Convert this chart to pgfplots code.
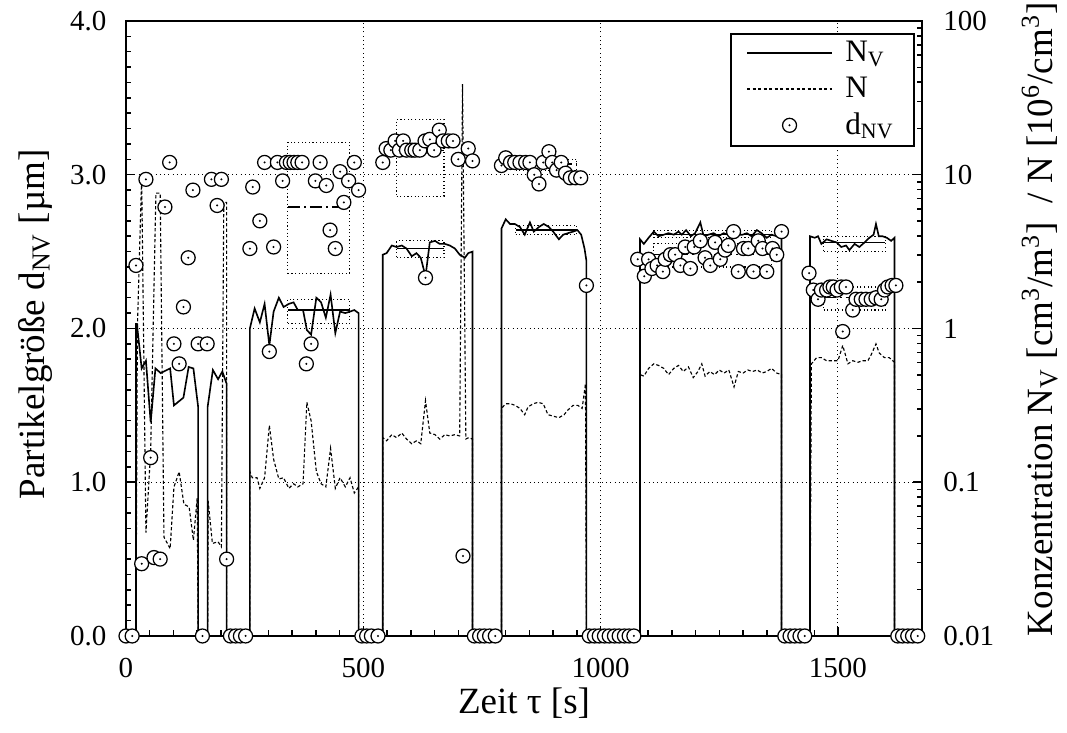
\documentclass[border=0pt]{standalone}
\usepackage{pgfplots}
\pgfplotsset{compat=1.18}
\usepackage{fontspec}
\setmainfont{Liberation Serif}

\pgfdeclareplotmark{odot}{%
  \pgfpathcircle{\pgfpointorigin}{\pgfplotmarksize}%
  \pgfusepathqfillstroke
  \begin{pgfscope}\pgfsetfillcolor{black}\pgfpathcircle{\pgfpointorigin}{0.45pt}\pgfusepathqfill\end{pgfscope}%
}

\pgfplotsset{
  base/.style={scale only axis, width=318.4pt, height=246pt, xmin=0, xmax=1677,
    /pgf/number format/assume math mode=true,
    tick label style={font=\fontsize{11.6}{13}\selectfont},
    label style={font=\fontsize{14.8}{16}\selectfont},
    axis line style={line width=0.8pt},
    major tick length=3.6pt, minor tick length=2.2pt,
    every tick/.style={black, line width=0.6pt},
    tick align=inside},
  dotbox/.style={black, line width=0.45pt, dash pattern=on 0.45pt off 1pt},
  meanA/.style={black, line width=0.5pt, dash pattern=on 5pt off 1.5pt on 0.8pt off 1.5pt},
  meanB/.style={black, line width=0.6pt},
}

\begin{document}
\begin{tikzpicture}
% ---------- axis 1: left linear axis, grid, marker boxes
\begin{axis}[base, ymin=0, ymax=4,
  xtick={0,500,1000,1500}, xticklabels={0,500,1000,1500},
  minor x tick num=9,
  ytick={0,1,2,3,4}, yticklabels={0.0,1.0,2.0,3.0,4.0},
  minor y tick num=9,
  xtick pos=left, ytick pos=left,
  grid=major, major grid style={black, line width=0.4pt, dash pattern=on 0.4pt off 1.3pt},
  yticklabel style={xshift=-4.3pt},
  xticklabel style={yshift=-5.5pt},
  xlabel={Zeit τ [s]},
  ylabel={Partikelgröße d\textsubscript{NV} [µm]},
  xlabel style={at={(axis description cs:0.5,-0.109)}, anchor=center},
  ylabel style={at={(axis description cs:-0.114,0.507)}, anchor=center, rotate=0},
]
\coordinate (SW) at (rel axis cs:0,0);
\coordinate (NE) at (rel axis cs:1,1);
% marker mean boxes
\addplot[dotbox] coordinates {(341,2.36)(471,2.36)(471,3.21)(341,3.21)(341,2.36)};
\addplot[meanA] coordinates {(341,2.79)(471,2.79)};
\addplot[dotbox] coordinates {(570,2.86)(670,2.86)(670,3.36)(570,3.36)(570,2.86)};
\addplot[meanA] coordinates {(570,3.16)(670,3.16)};
\addplot[dotbox] coordinates {(821,3.03)(950,3.03)(950,3.10)(821,3.10)(821,3.03)};
\addplot[meanA] coordinates {(821,3.07)(950,3.07)};
\addplot[dotbox] coordinates {(1112,2.40)(1360,2.40)(1360,2.55)(1112,2.55)(1112,2.40)};
\addplot[meanA] coordinates {(1112,2.48)(1360,2.48)};
\addplot[dotbox] coordinates {(1470,2.12)(1600,2.12)(1600,2.27)(1470,2.27)(1470,2.12)};
\addplot[meanA] coordinates {(1470,2.20)(1600,2.20)};
\end{axis}

% ---------- axis 2: right log axis, N_V and N
\begin{axis}[base, ymode=log, ymin=0.01, ymax=100,
  axis x line=none, axis y line*=right,
  ytick={0.01,0.1,1,10,100}, yticklabels={0.01,0.1,1,10,100},
  minor ytick={0.02,0.03,0.04,0.05,0.06,0.07,0.08,0.09,0.2,0.3,0.4,0.5,0.6,0.7,0.8,0.9,2,3,4,5,6,7,8,9,20,30,40,50,60,70,80,90},
  yticklabel style={xshift=5pt},
  ylabel={Konzentration N\textsubscript{V} [cm\textsuperscript{3}/m\textsuperscript{3}]\ \ / N [10\textsuperscript{6}/cm\textsuperscript{3}]},
  ylabel style={at={(axis description cs:1.148,0.515)}, anchor=center, rotate=0},
]
% N_V boxes
\addplot[dotbox] coordinates {(341,1.072)(471,1.072)(471,1.549)(341,1.549)(341,1.072)};
\addplot[meanB] coordinates {(341,1.318)(471,1.318)};
\addplot[dotbox] coordinates {(570,2.884)(670,2.884)(670,3.715)(570,3.715)(570,2.884)};
\addplot[meanB] coordinates {(570,3.311)(670,3.311)};
\addplot[dotbox] coordinates {(821,4.074)(950,4.074)(950,4.677)(821,4.677)(821,4.074)};
\addplot[meanB] coordinates {(821,4.365)(950,4.365)};
\addplot[dotbox] coordinates {(1112,3.890)(1360,3.890)(1360,4.365)(1112,4.365)(1112,3.890)};
\addplot[meanB] coordinates {(1112,4.074)(1360,4.074)};
\addplot[dotbox] coordinates {(1470,3.162)(1600,3.162)(1600,3.981)(1470,3.981)(1470,3.162)};
\addplot[meanB] coordinates {(1470,3.631)(1600,3.631)};
% N (dashed)
\addplot[black, line width=0.45pt, dash pattern=on 1.3pt off 0.9pt] coordinates {
(0,0.01)(21,0.01)(24,1.0)(33,9.77)(42,0.047)(52,0.16)(63,7.59)(72,7.59)(80,0.044)(93,0.037)
(101,0.093)(112,0.117)(122,0.072)(133,0.069)(142,0.042)(150,0.079)(152,0.01)(172,0.01)
(173,0.076)(182,0.040)(194,0.041)(201,0.038)(206,6.61)(212,6.61)(212,0.01)(261,0.01)
(261,0.1175)(266,0.107)(276,0.107)(282,0.0912)(292,0.107)(302,0.234)(311,0.141)(322,0.105)
(332,0.107)(343,0.0912)(353,0.0977)(362,0.0933)(373,0.0977)(381,0.331)(390,0.251)(401,0.1175)
(411,0.0977)(421,0.0933)(431,0.166)(441,0.0912)(451,0.107)(462,0.0933)(472,0.107)(481,0.0851)
(490,0.0933)(490,0.01)(541,0.01)(541,0.195)(549,0.186)(560,0.204)(570,0.195)(581,0.209)
(591,0.191)(602,0.178)(612,0.186)(621,0.178)(631,0.339)(640,0.209)(651,0.204)(661,0.191)
(672,0.204)(682,0.200)(693,0.204)(703,0.200)(709,38.9)(716,0.191)(722,0.195)(730,0.191)
(730,0.01)(791,0.01)(791,0.302)(800,0.324)(810,0.324)(820,0.316)(830,0.302)(840,0.275)
(847,0.309)(858,0.324)(868,0.331)(879,0.324)(889,0.275)(900,0.269)(912,0.263)(923,0.275)
(931,0.295)(942,0.316)(952,0.316)(961,0.302)(968,0.437)(970,0.01)(1083,0.01)
(1083,0.501)(1091,0.490)(1101,0.550)(1112,0.589)(1122,0.575)(1133,0.550)(1143,0.501)
(1154,0.550)(1164,0.575)(1174,0.525)(1185,0.562)(1195,0.479)(1205,0.525)(1213,0.589)
(1220,0.490)(1230,0.525)(1240,0.501)(1250,0.537)(1260,0.513)(1270,0.537)(1281,0.417)
(1290,0.525)(1300,0.513)(1310,0.537)(1320,0.525)(1330,0.537)(1340,0.513)(1350,0.525)
(1360,0.550)(1371,0.513)(1381,0.501)(1381,0.01)(1441,0.01)(1444,0.589)(1455,0.646)
(1465,0.646)(1476,0.617)(1490,0.617)(1500,0.617)(1510,0.776)(1521,0.589)(1531,0.617)
(1542,0.603)(1552,0.617)(1563,0.617)(1570,0.676)(1580,0.794)(1587,0.692)(1598,0.646)
(1608,0.646)(1619,0.603)(1619,0.01)(1677,0.01)};
% N_V (solid)
\addplot[black, line width=0.65pt] coordinates {
(0,0.01)(21,0.01)(21,1.072)(23,1.072)(33,0.550)(42,0.617)(52,0.245)(62,0.550)(73,0.513)
(93,0.550)(101,0.316)(121,0.355)(132,0.562)(142,0.550)(152,0.309)(152,0.01)(172,0.01)
(172,0.309)(183,0.537)(194,0.468)(203,0.525)(212,0.437)(212,0.01)(261,0.01)
(261,1.000)(271,1.349)(282,1.096)(292,1.445)(302,0.776)(311,1.288)(322,1.585)(332,1.380)
(343,1.445)(353,1.479)(362,1.318)(373,1.318)(381,0.977)(390,0.912)(401,1.585)(411,1.479)
(421,1.175)(431,1.660)(441,0.933)(451,1.288)(462,1.259)(472,1.288)(481,1.318)(490,1.259)
(490,0.01)(541,0.01)(541,3.020)(549,3.090)(560,3.467)(570,3.388)(581,3.467)(591,3.311)
(602,2.951)(612,3.090)(621,2.884)(631,2.188)(640,3.631)(651,3.715)(661,3.548)(672,3.548)
(682,3.467)(693,3.311)(703,3.020)(714,2.884)(721,3.090)(730,3.162)(730,0.01)(791,0.01)
(791,4.467)(800,5.129)(809,4.786)(819,4.786)(830,4.571)(840,4.074)(851,4.898)(859,4.266)
(870,4.571)(880,4.786)(891,4.571)(900,4.266)(912,3.802)(921,4.074)(931,4.169)(942,4.266)
(951,4.365)(959,4.074)(966,3.311)(970,2.754)(970,0.01)(1083,0.01)(1083,3.802)(1091,3.548)
(1101,3.890)(1112,4.266)(1122,3.981)(1133,4.074)(1143,4.169)(1154,4.074)(1164,4.266)
(1171,4.074)(1180,4.365)(1190,3.981)(1199,4.169)(1210,4.898)(1217,3.981)(1227,4.074)
(1238,4.169)(1248,3.981)(1259,4.169)(1269,4.074)(1280,4.169)(1290,4.074)(1299,4.074)
(1308,4.169)(1318,3.981)(1329,4.365)(1339,4.169)(1350,3.890)(1360,4.074)(1371,3.981)
(1381,3.981)(1381,0.01)(1441,0.01)(1441,3.981)(1451,3.890)(1458,3.981)(1465,3.548)
(1476,3.802)(1486,3.715)(1497,3.631)(1507,3.388)(1517,3.467)(1524,3.236)(1535,3.548)
(1545,3.388)(1556,3.631)(1566,3.890)(1575,4.074)(1580,4.786)(1586,3.981)(1594,3.981)
(1603,3.890)(1612,3.715)(1619,3.890)(1619,0.01)(1677,0.01)};
\end{axis}

% ---------- axis 3: markers d_NV and legend
\begin{axis}[base, ymin=0, ymax=4, hide axis, clip=false,
  legend image code/.code={\draw[mark repeat=2,mark phase=2,#1] plot coordinates {(0pt,0pt)(17pt,0pt)(34pt,0pt)};},
  legend style={font=\fontsize{12.5}{13.5}\selectfont, draw=black, line width=0.8pt, fill=white,
    at={(axis description cs:0.991,0.981)}, anchor=north east,
    row sep=0.6pt, column sep=3pt, inner xsep=6pt, inner ysep=1pt},
  legend cell align=left,
]
\addlegendimage{black, line width=0.65pt}
\addlegendentry{N\textsubscript{V}}
\addlegendimage{black, line width=0.45pt, dash pattern=on 1.3pt off 0.9pt}
\addlegendentry{N}
\addplot[only marks, mark=odot, mark size=2.8pt, mark options={fill=white, draw=black, line width=0.5pt, solid}] coordinates {
(0,0)(13,0)(21,2.41)(33,0.47)(42,2.97)(52,1.16)(59,0.51)(72,0.50)(82,2.79)(92,3.08)(101,1.90)
(112,1.77)(121,2.14)(131,2.46)(141,2.90)(152,1.90)(161,0)(171,1.90)(180,2.97)(192,2.80)(201,2.97)
(212,0.50)(220,0)(231,0)(241,0)(252,0)(261,2.52)(267,2.92)(282,2.70)(292,3.08)(302,1.85)(311,2.53)
(319,3.08)(330,2.96)(338,3.08)(346,3.08)(354,3.08)(362,3.08)(371,3.08)(380,1.77)(390,1.90)(399,2.96)
(409,3.08)(422,2.93)(430,2.64)(441,2.52)(451,3.02)(459,2.82)(469,2.96)(481,3.08)(490,2.90)(497,0)
(507,0)(517,0)(531,0)(541,3.08)(548,3.17)(558,3.16)(567,3.22)(576,3.16)(584,3.22)(591,3.16)(602,3.16)
(609,3.16)(619,3.16)(630,3.22)(631,2.33)(640,3.23)(649,3.16)(660,3.29)(668,3.22)(679,3.22)(689,3.22)
(700,3.10)(710,0.52)(721,3.17)(730,3.09)(734,0)(745,0)(755,0)(766,0)(778,0)(791,3.06)(800,3.11)
(810,3.08)(819,3.08)(830,3.08)(842,3.08)(851,3.08)(860,3.00)(870,2.94)(879,3.08)(891,3.15)(898,3.08)
(907,3.03)(917,3.08)(926,3.01)(936,2.98)(947,2.98)(958,2.98)(970,2.28)(976,0)(987,0)(997,0)(1008,0)
(1018,0)(1029,0)(1039,0)(1050,0)(1060,0)(1070,0)(1078,2.45)(1092,2.34)(1101,2.45)(1108,2.39)
(1119,2.41)(1131,2.37)(1136,2.45)(1147,2.48)(1157,2.48)(1168,2.41)(1178,2.53)(1189,2.39)(1197,2.53)
(1210,2.57)(1220,2.46)(1231,2.41)(1241,2.56)(1252,2.45)(1262,2.51)(1269,2.54)(1280,2.63)(1290,2.37)
(1301,2.52)(1311,2.52)(1322,2.37)(1332,2.57)(1341,2.52)(1350,2.37)(1362,2.52)(1371,2.48)(1381,2.63)
(1388,0)(1399,0)(1409,0)(1420,0)(1430,0)(1439,2.36)(1448,2.25)(1458,2.19)(1465,2.25)(1476,2.25)
(1483,2.27)(1490,2.27)(1498,2.25)(1507,2.27)(1510,1.98)(1517,2.27)(1531,2.12)(1538,2.19)(1549,2.19)
(1559,2.19)(1570,2.19)(1580,2.20)(1591,2.19)(1598,2.25)(1605,2.27)(1614,2.28)(1622,2.28)(1626,0)
(1636,0)(1647,0)(1657,0)(1668,0)};
\addlegendentry{d\textsubscript{NV}}
\end{axis}
\pgfresetboundingbox
\useasboundingbox ([shift={(-50.4pt,-38.8pt)}]SW) rectangle ([shift={(58pt,8.4pt)}]NE);
\end{tikzpicture}
\end{document}
